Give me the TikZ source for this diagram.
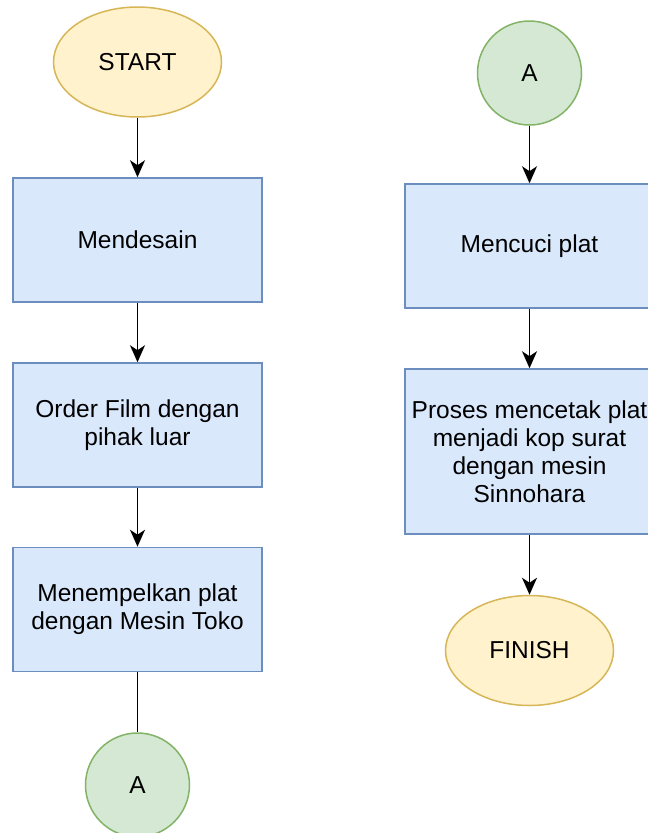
\documentclass[tikz,border=0pt]{standalone}
\usepackage{fontspec}
\setmainfont{Liberation Sans}
\usetikzlibrary{arrows.meta,shapes.geometric}
\definecolor{boxfill}{HTML}{DAE8FC}
\definecolor{boxline}{HTML}{6C8EBF}
\definecolor{termfill}{HTML}{FFF2CC}
\definecolor{termline}{HTML}{D6B656}
\definecolor{conffill}{HTML}{D5E8D4}
\definecolor{confline}{HTML}{82B366}
\begin{document}
\begin{tikzpicture}[x=1pt,y=-1pt,
  txt/.style={font=\fontsize{24.5}{28}\selectfont, align=center, inner sep=0pt},
  proc/.style={txt, draw=boxline, fill=boxfill, line width=1.5pt, minimum width=249pt, minimum height=124pt},
  term/.style={txt, ellipse, draw=termline, fill=termfill, line width=1.5pt, minimum width=168pt, minimum height=110pt},
  conn/.style={txt, circle, draw=confline, fill=conffill, line width=1.5pt, minimum size=104pt},
  flow/.style={line width=1.8pt, -{Stealth[length=17pt,width=15pt,inset=5pt]}},
  plain/.style={line width=1.8pt}
]
\useasboundingbox (0,0) rectangle (648,833);
% left column
\node[term] (start) at (137.5,62) {START};
\node[proc] (b1) at (137.5,240) {Mendesain};
\node[proc] (b2) at (137.5,425) {Order Film dengan\\pihak luar};
\node[proc] (b3) at (137.5,609.5) {Menempelkan plat\\dengan Mesin Toko};
\node[conn] (a1) at (137.5,785) {A};
% right column
\node[conn] (a2) at (529.5,73) {A};
\node[proc] (c1) at (529.5,246) {Mencuci plat};
\node[proc, minimum height=165pt] (c2) at (529.5,451.5) {Proses mencetak plat\\menjadi kop surat\\dengan mesin\\Sinnohara};
\node[term] (finish) at (529.5,650.5) {FINISH};
% connectors
\draw[flow] (start) -- (b1);
\draw[flow] (b1) -- (b2);
\draw[flow] (b2) -- (b3);
\draw[plain] (b3) -- (a1);
\draw[flow] (a2) -- (c1);
\draw[flow] (c1) -- (c2);
\draw[flow] (c2) -- (finish);
\end{tikzpicture}
\end{document}
